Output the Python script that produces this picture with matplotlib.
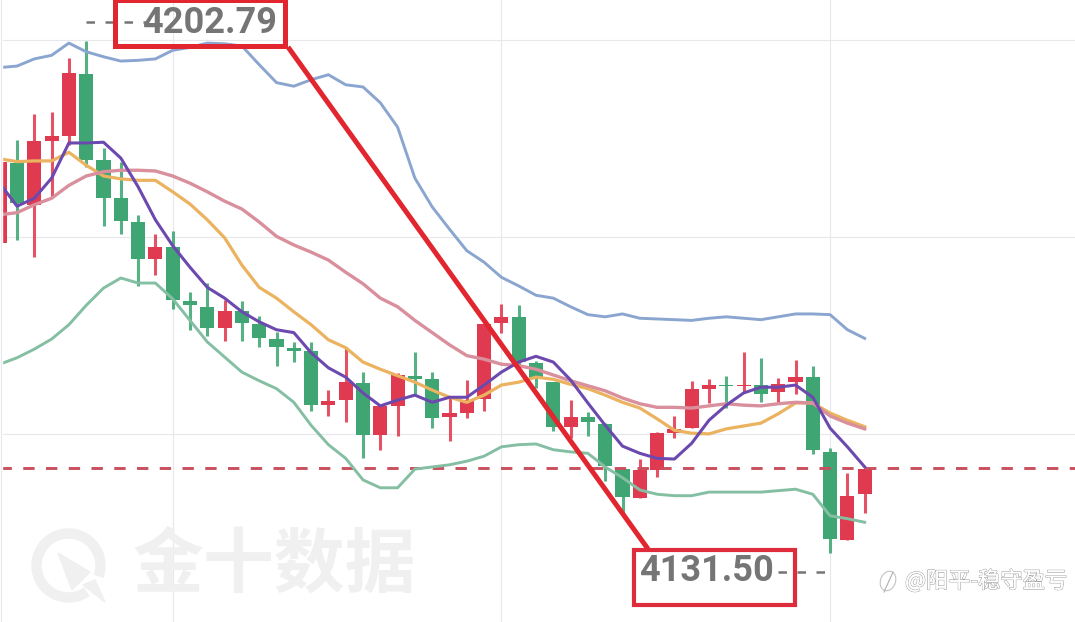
import numpy as np
import matplotlib
matplotlib.use('Agg')
from matplotlib import pyplot as plt
from matplotlib import patches
from matplotlib import patheffects
from matplotlib.transforms import Affine2D

opens = [4174.7, 4185.8, 4180.0, 4188.9, 4189.6, 4198.2, 4186.2, 4180.9, 4177.6, 4172.4,
         4174.1, 4166.6, 4165.8, 4162.8, 4165.2, 4163.4, 4161.3, 4160.1, 4159.6, 4152.1,
         4152.8, 4155.2, 4147.9, 4152.0, 4156.2, 4155.7, 4150.5, 4151.0, 4152.9, 4163.5,
         4164.4, 4158.0, 4155.3, 4149.1, 4150.5, 4149.5, 4143.2, 4139.2, 4143.1, 4148.2,
         4148.9, 4154.4, 4154.9, 4154.8, 4154.9, 4153.9, 4155.3, 4156.0, 4145.6, 4133.3,
         4139.7]
highs = [4186.0, 4189.0, 4192.6, 4192.9, 4200.4, 4202.79, 4187.9, 4186.0, 4178.6, 4175.9,
         4176.3, 4167.8, 4169.1, 4166.7, 4166.6, 4164.5, 4162.3, 4160.9, 4160.9, 4154.2,
         4160.2, 4156.7, 4152.0, 4156.6, 4159.5, 4156.7, 4153.1, 4155.6, 4163.4, 4166.2,
         4166.1, 4158.2, 4155.3, 4152.8, 4151.2, 4149.6, 4143.2, 4144.6, 4148.4, 4150.6,
         4155.5, 4155.7, 4156.2, 4159.5, 4158.7, 4155.9, 4158.4, 4157.6, 4146.1, 4142.7,
         4143.2]
lows = [4174.7, 4175.1, 4172.7, 4181.1, 4188.3, 4185.3, 4177.0, 4175.9, 4168.7, 4170.2,
        4165.5, 4162.6, 4161.7, 4161.0, 4161.0, 4160.2, 4157.6, 4158.1, 4151.3, 4150.6,
        4149.8, 4144.7, 4145.9, 4147.8, 4153.7, 4148.9, 4147.1, 4150.3, 4151.3, 4162.2,
        4157.3, 4154.5, 4148.5, 4147.5, 4147.8, 4141.5, 4136.7, 4139.2, 4142.1, 4147.5,
        4148.9, 4152.4, 4151.7, 4153.8, 4152.5, 4152.4, 4153.7, 4145.3, 4131.50, 4133.3,
        4137.1]
closes = [4186.0, 4180.2, 4188.9, 4189.6, 4198.3, 4186.2, 4180.9, 4177.7, 4172.4, 4174.1,
          4166.7, 4166.0, 4162.8, 4165.2, 4163.5, 4161.4, 4160.2, 4159.6, 4152.1, 4152.7,
          4155.3, 4147.9, 4152.0, 4156.3, 4155.7, 4150.3, 4151.0, 4152.8, 4163.4, 4164.4,
          4158.1, 4155.7, 4149.1, 4150.5, 4149.8, 4143.6, 4139.3, 4143.1, 4148.2, 4148.8,
          4154.4, 4154.9, 4154.8, 4154.9, 4153.7, 4155.0, 4156.0, 4145.9, 4133.5, 4139.5,
          4143.2]

boll_upper = [4199.1, 4199.3, 4200.3, 4200.8, 4202.5, 4201.3, 4200.6, 4200.0, 4200.1, 4200.3,
              4201.5, 4201.9, 4202.5, 4202.4, 4202.1, 4199.5, 4197.0, 4196.5, 4197.4, 4198.1,
              4196.7, 4196.4, 4194.2, 4190.8, 4183.7, 4179.7, 4176.6, 4173.6, 4172.0, 4169.9,
              4168.7, 4167.4, 4167.0, 4165.8, 4164.7, 4164.4, 4164.8, 4164.2, 4164.1, 4164.0,
              4163.9, 4164.2, 4164.4, 4164.2, 4164.0, 4164.4, 4164.8, 4164.8, 4164.7, 4162.6,
              4161.4]
boll_mid = [4178.6, 4178.9, 4180.0, 4180.9, 4182.7, 4184.0, 4184.6, 4184.8, 4184.8, 4184.7,
            4184.0, 4183.0, 4181.8, 4180.5, 4179.4, 4177.6, 4175.6, 4174.4, 4173.4, 4172.3,
            4170.6, 4169.0, 4167.0, 4165.8, 4163.9, 4162.2, 4160.5, 4159.0, 4158.5, 4157.8,
            4157.6, 4157.1, 4156.3, 4155.5, 4154.8, 4154.1, 4153.1, 4152.3, 4151.8, 4151.8,
            4151.7, 4152.0, 4152.3, 4152.1, 4152.0, 4152.3, 4152.5, 4152.4, 4150.6, 4149.6,
            4148.8]
boll_lower = [4157.8, 4158.7, 4159.9, 4161.3, 4163.3, 4166.0, 4168.4, 4169.8, 4169.1, 4169.1,
              4166.9, 4163.9, 4160.9, 4158.8, 4156.7, 4155.5, 4154.4, 4152.5, 4149.3, 4146.6,
              4144.7, 4141.7, 4140.6, 4140.6, 4143.2, 4143.5, 4143.8, 4144.3, 4145.0, 4146.3,
              4146.6, 4146.7, 4145.9, 4145.6, 4145.4, 4143.5, 4142.0, 4140.3, 4139.7, 4139.5,
              4139.5, 4140.0, 4140.0, 4140.0, 4140.0, 4140.2, 4140.4, 4139.7, 4136.7, 4136.3,
              4135.8]
ma_fast = [4183.0, 4179.8, 4180.9, 4183.7, 4188.6, 4188.6, 4188.7, 4186.5, 4182.5, 4177.9,
           4174.3, 4171.3, 4168.5, 4167.0, 4165.1, 4163.7, 4162.6, 4162.2, 4159.4, 4157.3,
           4156.0, 4153.8, 4152.0, 4152.8, 4153.5, 4152.5, 4153.2, 4153.2, 4154.9, 4156.7,
           4158.1, 4158.9, 4158.1, 4155.6, 4152.4, 4149.3, 4146.4, 4145.4, 4144.7, 4144.6,
           4146.8, 4150.0, 4152.1, 4153.8, 4154.6, 4154.6, 4154.9, 4153.2, 4148.9, 4146.3,
           4143.5]
ma_slow = [4186.4, 4186.0, 4186.1, 4186.1, 4187.3, 4185.5, 4184.0, 4183.6, 4183.4, 4183.4,
           4181.8, 4180.1, 4177.9, 4175.4, 4171.6, 4168.5, 4167.0, 4165.1, 4163.3, 4161.2,
           4160.1, 4158.1, 4157.1, 4156.2, 4155.3, 4154.2, 4153.2, 4152.5, 4153.5, 4154.9,
           4155.3, 4156.0, 4155.7, 4155.0, 4154.4, 4153.5, 4152.5, 4151.7, 4150.2, 4148.6,
           4148.2, 4148.1, 4148.8, 4149.2, 4149.6, 4150.9, 4152.4, 4152.4, 4151.0, 4150.0,
           4149.1]

last_price = 4143.35
high_label = '4202.79'
low_label = '4131.50'
grid_prices = [4202.93, 4175.5, 4148.08]
grid_bars = [10, 29, 48]

WIDTH = 1075
HEIGHT = 622
UP = '#e03a50'
DOWN = '#3fa673'
BOX_RED = '#e2262f'
LABEL_GRAY = '#757575'
MARK_GRAY = '#f0f0f0'
LABEL_FONT = ['Liberation Sans Narrow', 'Roboto', 'DejaVu Sans']
CJK_FONT = ['Noto Sans CJK SC', 'DejaVu Sans']

fig = plt.figure(figsize=(WIDTH / 100, HEIGHT / 100), dpi=100)
ax = fig.add_axes([0, 0, 1, 1])
ax.set_xlim(0.3 / 17.3, (WIDTH + 0.3) / 17.3)
ax.set_ylim(4208.5 - 0.1392 * HEIGHT, 4208.5)
for spine in ax.spines.values():
    spine.set_visible(False)

# pixel coordinates with the origin at the top left, for the annotations
px = Affine2D().scale(1 / WIDTH, -1 / HEIGHT).translate(0, 1) + fig.transFigure

ax.set_xticks(grid_bars)
ax.set_yticks(grid_prices)
ax.tick_params(length=0, labelbottom=False, labelleft=False)
ax.grid(color='#e8e8ec', lw=0.8)
ax.set_axisbelow(True)

# watermark logo and name
logo_ring = patches.Arc((68.5, 565.5), 64, 64, theta1=55, theta2=20, lw=7.5,
                        color=MARK_GRAY, transform=px, zorder=1)
ax.add_patch(logo_ring)
ax.add_patch(patches.Polygon([(58, 553), (90, 572), (72, 590)], color=MARK_GRAY, transform=px, zorder=1))
ax.add_patch(patches.Polygon([(83, 585), (95, 580), (105, 602)], color=MARK_GRAY, transform=px, zorder=1))
ax.text(274, 565, '金十数据', transform=px, family=CJK_FONT, weight='bold', fontsize=51,
        color=MARK_GRAY, ha='center', va='center', zorder=1)

# candles
x = np.arange(len(closes))
opens = np.array(opens)
closes = np.array(closes)
colors = [UP if c >= o else DOWN for o, c in zip(opens, closes)]
ax.vlines(x, lows, highs, colors=colors, lw=2.2, alpha=0.88, zorder=3)
ax.bar(x, np.abs(closes - opens), bottom=np.minimum(opens, closes), width=0.81, color=colors, zorder=3)

ax.axhline(last_price, color='#c9505f', lw=2.1, dashes=(3.9, 3.9), zorder=4)

ax.plot(x, boll_upper, color='#8aa5cf', lw=2.1, zorder=5)
ax.plot(x, boll_lower, color='#85bfa3', lw=2.1, zorder=5)
ax.plot(x, ma_slow, color='#ebb25f', lw=2.3, zorder=5)
ax.plot(x, boll_mid, color='#d98f9c', lw=2.4, zorder=5)
ax.plot(x, ma_fast, color='#6c49ae', lw=2.2, zorder=6)

# left edge of the chart
ax.add_patch(patches.Rectangle((0, 0), 2, HEIGHT, color='white', transform=px, zorder=7))
ax.plot([1, 1], [0, HEIGHT], color='#e8e8ec', lw=0.8, transform=px, zorder=8)

# leader and boxes around the extreme prices
ax.plot([288, 648], [47, 549], color=BOX_RED, lw=3.6, transform=px, zorder=9, solid_capstyle='butt')
ax.add_patch(patches.Rectangle((114.5, 0), 170.5, 45.5, fill=False, ec=BOX_RED, lw=3.6,
                               transform=px, zorder=10))
ax.add_patch(patches.Rectangle((634, 550), 161, 55, fill=False, ec='#df2c3c', lw=3.0,
                               transform=px, zorder=10))
ax.text(209.5, 23, high_label, transform=px, family=LABEL_FONT, weight='bold', fontsize=26,
        color=LABEL_GRAY, ha='center', va='center', zorder=10)
ax.text(706.5, 571, low_label, transform=px, family=LABEL_FONT, weight='bold', fontsize=26,
        color=LABEL_GRAY, ha='center', va='center', zorder=10)
ax.plot([86, 147], [22, 22], color=LABEL_GRAY, lw=1.8, dashes=(3.4, 4.2), transform=px, zorder=8)
ax.plot([778, 825], [572, 572], color=LABEL_GRAY, lw=1.8, dashes=(3.4, 4.2), transform=px, zorder=8)

# author mark in the lower right corner
ax.add_patch(patches.Ellipse((888, 581), 15, 20, angle=20, fill=False, ec='#c4c4c4', lw=0.8,
                             transform=px, zorder=10))
ax.plot([884, 893], [592, 572], color='#b0b0b0', lw=0.8, transform=px, zorder=10)
author = ax.text(905, 581, '@阳平-稳守盈亏', transform=px, family=CJK_FONT, fontsize=16,
                 color='white', ha='left', va='center', zorder=10)
author.set_path_effects([patheffects.withStroke(linewidth=0.9, foreground='#a0a0a0'), patheffects.Normal()])

fig.savefig('out.png', dpi=100)
